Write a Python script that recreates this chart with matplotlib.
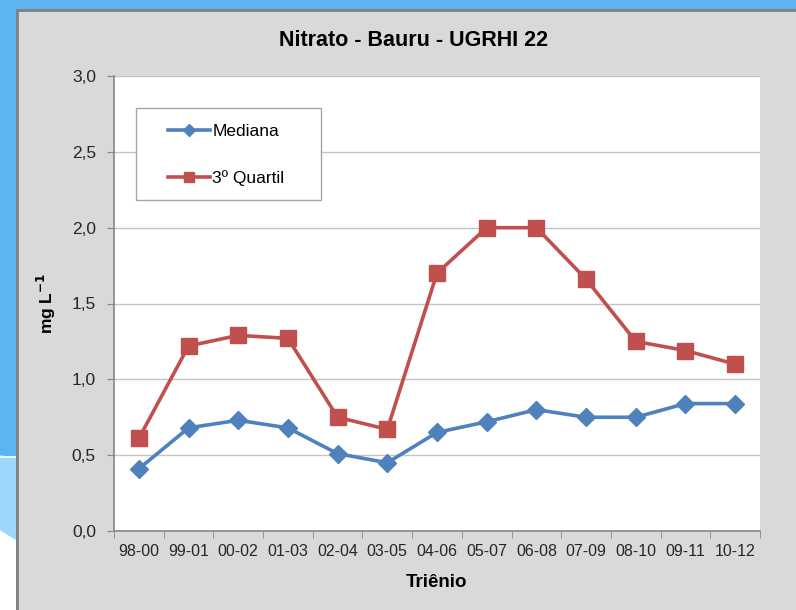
import matplotlib
matplotlib.use('Agg')
import matplotlib.pyplot as plt
from matplotlib.patches import Rectangle, Polygon
from matplotlib.ticker import FixedLocator

trienios = ['98-00', '99-01', '00-02', '01-03', '02-04', '03-05', '04-06',
            '05-07', '06-08', '07-09', '08-10', '09-11', '10-12']
mediana = [0.41, 0.68, 0.73, 0.68, 0.51, 0.45, 0.65, 0.72, 0.80, 0.75, 0.75, 0.84, 0.84]
quartil3 = [0.61, 1.22, 1.29, 1.27, 0.75, 0.67, 1.70, 2.00, 2.00, 1.66, 1.25, 1.19, 1.10]

plt.rcParams['font.family'] = ['Liberation Sans Narrow', 'Liberation Sans', 'DejaVu Sans']

W, H = 796, 610
fig = plt.figure(figsize=(W / 100, H / 100), dpi=100, facecolor='#5cb5ef')

# slide background bits on the left
fig.patches.append(Polygon([(0, 1 - 455 / H), (16 / W, 1 - 458 / H), (16 / W, 1 - 540 / H), (0, 1 - 530 / H)],
                           closed=True, transform=fig.transFigure, facecolor='#9dd8fc', edgecolor='none', zorder=-3))
fig.patches.append(Polygon([(0, 1 - 530 / H), (16 / W, 1 - 540 / H), (16 / W, 0), (0, 0)],
                           closed=True, transform=fig.transFigure, facecolor='white', edgecolor='none', zorder=-3))
fig.patches.append(Rectangle((0, 1 - 458 / H), 16 / W, 2 / H, transform=fig.transFigure,
                             facecolor='#e8f6ff', edgecolor='none', zorder=-3))

# gray chart panel
fig.patches.append(Rectangle((17 / W, -0.01), 1, 1 - 10 / H + 0.01, transform=fig.transFigure,
                             facecolor='#d9d9d9', edgecolor='#808080', linewidth=2, zorder=-2))

ax = fig.add_axes([114 / W, 1 - 531 / H, 646 / W, 455 / H])
ax.set_zorder(5)
ax.set_facecolor('white')
x = list(range(len(trienios)))

ax.plot(x, mediana, color='#4f81bd', linewidth=2.6, marker='D', markersize=9,
        label='Mediana', zorder=3)
ax.plot(x, quartil3, color='#c0504d', linewidth=2.6, marker='s', markersize=11,
        label='3º Quartil', zorder=3)

ax.set_xlim(-0.5, len(trienios) - 0.5)
ax.set_ylim(0, 3.0)
ax.set_yticks([0, 0.5, 1.0, 1.5, 2.0, 2.5, 3.0])
ax.set_yticklabels(['0,0', '0,5', '1,0', '1,5', '2,0', '2,5', '3,0'])
ax.set_xticks(x)
ax.set_xticklabels(trienios)
ax.xaxis.set_minor_locator(FixedLocator([i - 0.5 for i in range(len(trienios) + 1)]))
ax.tick_params(axis='x', which='major', length=0, pad=9, labelsize=11.5, labelcolor='#262626')
ax.tick_params(axis='x', which='minor', length=5, color='#868686', direction='out')
ax.tick_params(axis='y', length=5, color='#868686', pad=8, labelsize=12.5, labelcolor='#262626')

ax.grid(axis='y', color='#c4c4c4', linewidth=1)
ax.set_axisbelow(True)
for s in ['top', 'right']:
    ax.spines[s].set_visible(False)
ax.spines['left'].set_color('#868686')
ax.spines['bottom'].set_color('#868686')
ax.spines['left'].set_linewidth(1.2)
ax.spines['bottom'].set_linewidth(1.2)

ax.set_xlabel('Triênio', fontsize=13.5, fontweight='bold', labelpad=11)
ax.set_ylabel('mg L$^{\\mathbf{-1}}$', fontsize=12.5, fontweight='bold', labelpad=10)
fig.text(414 / W, 1 - 40 / H, 'Nitrato - Bauru - UGRHI 22', ha='center', va='center',
         fontsize=15.5, fontweight='bold')

# legend box drawn separately so the padding can match
ax.add_patch(Rectangle(((136 - 114) / 646, (531 - 200) / 455), (321 - 136) / 646, 92 / 455,
                       transform=ax.transAxes, facecolor='white', edgecolor='#a6a6a6',
                       linewidth=1, zorder=4))
leg = ax.legend(loc='upper left', bbox_to_anchor=((168 - 114) / 646, (531 - 124) / 455),
                frameon=False, fontsize=12.5, handlelength=2.4, labelspacing=1.8,
                handletextpad=0.15, borderpad=0, borderaxespad=0, markerscale=0.7)
leg.set_zorder(6)
for h in leg.get_lines():
    h.set_linewidth(2.6)

fig.savefig('out.png', dpi=100, facecolor=fig.get_facecolor())
